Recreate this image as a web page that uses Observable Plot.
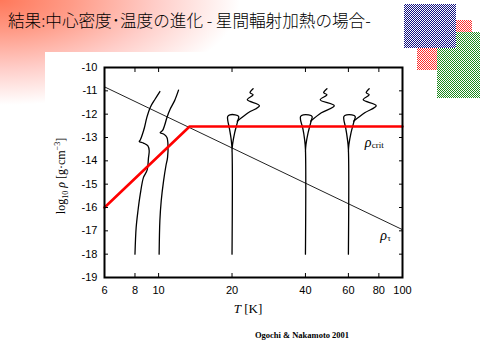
<!DOCTYPE html>
<html><head><meta charset="utf-8">
<script src="https://cdn.jsdelivr.net/npm/d3@7"></script>
<script src="https://cdn.jsdelivr.net/npm/@observablehq/plot@0.6"></script>
<style>
html,body{margin:0;padding:0;background:#fff;}
#page{position:relative;width:480px;height:360px;overflow:hidden;background:#fff;}
.abs{position:absolute;}
#grad{left:0;top:0;width:260px;height:110px;
 background:radial-gradient(ellipse 240px 105px at 0 0, rgb(255,120,90) 0%, rgb(255,155,135) 30%, rgb(255,205,200) 65%, rgba(255,255,255,0) 100%);}
#white{left:45px;top:52px;width:372px;height:308px;background:#fff;}
.sq{background-size:2px 2px;}
#sqRed{left:417px;top:20px;width:55px;height:50px;background-image:repeating-conic-gradient(#ff2a2a 0 25%, #fff 0 50%);}
#sqGreen{left:437px;top:32px;width:43px;height:66px;background-image:repeating-conic-gradient(#1f8a1f 0 25%, #fff 0 50%);}
#sqBlue{left:404px;top:4px;width:52px;height:44px;background-image:repeating-conic-gradient(#101080 0 25%, #fff 0 50%);}
#title{left:8px;top:12px;font-family:"Noto Sans CJK JP",sans-serif;font-weight:300;font-size:16.6px;line-height:1;color:#000;white-space:nowrap;letter-spacing:0px;}
#chart{left:0;top:0;}
</style></head>
<body><div id="page">
<div id="grad" class="abs"></div>
<div id="white" class="abs"></div>
<div id="sqRed" class="abs sq"></div>
<div id="sqGreen" class="abs sq"></div>
<div id="sqBlue" class="abs sq"></div>
<div id="chart" class="abs"></div>
<div id="title" class="abs">結果:中心密度･温度の進化 - 星間輻射加熱の場合-</div>
</div>
<script>
// ---- data (T [K], log10 rho) ----
const xTicks = [6, 8, 10, 20, 40, 60, 80, 100];
const yTicks = [-19, -18, -17, -16, -15, -14, -13, -12, -11, -10];

const rhoTau = [[6, -10.83], [100, -16.95]];
const rhoCrit = [[6, -16.0], [13.4, -12.53], [100, -12.53]];

const track8 = [[8.0,-18.0],[8.09,-16.86],[8.23,-16.14],[8.41,-15.43],[8.67,-14.71],[8.97,-14.4],[9.09,-13.86],[9.15,-13.57],[9.04,-13.36],[8.67,-13.24],[8.33,-13.17],[8.41,-13.11],[8.59,-12.85],[8.75,-12.57],[8.95,-12.14],[9.24,-11.71],[9.68,-11.35],[10.12,-11.03]];
const track10 = [[10.05,-18.0],[10.12,-16.57],[10.25,-15.71],[10.48,-14.86],[10.72,-14.2],[10.88,-13.86],[10.92,-13.28],[10.82,-13.0],[10.48,-12.85],[10.15,-12.79],[10.37,-12.71],[10.57,-12.5],[10.82,-12.14],[11.16,-11.78],[11.62,-11.43],[12.07,-10.97]];

const track20loop = [[20,-18],[20,-13.5],[19.85,-13.1],[19.5,-12.6],[19.2,-12.25],[19.2,-12.1],[19.6,-12.03],[20.6,-12.03],[21.3,-12.1],[21.1,-12.3],[20.5,-12.8],[20.1,-13.3],[20,-13.6]];
const track20zig = [[21.0,-12.3],[23.3,-11.94],[25.9,-11.64],[23.1,-11.38],[24.4,-11.17],[23.7,-11.08],[24.4,-10.91]];
const track40loop = [[40,-18],[40,-13.5],[39.7,-13.1],[39.0,-12.6],[38.2,-12.25],[38.2,-12.1],[39.2,-12.03],[41.2,-12.03],[42.6,-12.1],[42.2,-12.3],[41.0,-12.8],[40.2,-13.3],[40,-13.6]];
const track40zig = [[42.0,-12.3],[46.5,-11.94],[52.5,-11.64],[46.0,-11.38],[49.0,-11.17],[47.5,-11.08],[49.0,-10.91]];
const track60loop = [[60,-18],[60,-13.5],[59.5,-13.1],[58.5,-12.6],[57.5,-12.25],[57.5,-12.1],[59.0,-12.03],[62.0,-12.03],[64.0,-12.1],[63.3,-12.3],[61.5,-12.8],[60.3,-13.3],[60,-13.6]];
const track60zig = [[63.0,-12.3],[70.0,-11.94],[78.0,-11.64],[69.0,-11.38],[73.0,-11.17],[71.0,-11.08],[73.0,-10.91]];

const curveLabels = [
  {name: "ρ", sub: "crit", T: 70, rho: -13.2},
  {name: "ρ", sub: "τ", T: 81, rho: -17.2}
];

// ---- build tables ----
const smoothTracks = [["t8", track8], ["t10", track10]]
  .flatMap(([id, pts]) => pts.map(([T, r]) => ({id, T, r})));
const loopTracks = [["t20a", track20loop], ["t20b", track20zig], ["t40a", track40loop], ["t40b", track40zig], ["t60a", track60loop], ["t60b", track60zig]]
  .flatMap(([id, pts]) => pts.map(([T, r]) => ({id, T, r})));
const tauRows = rhoTau.map(([T, r]) => ({T, r}));
const critRows = rhoCrit.map(([T, r]) => ({T, r}));

const fmt = d => String(d);
const chart = Plot.plot({
  width: 480, height: 360,
  marginLeft: 104, marginRight: 78, marginTop: 67, marginBottom: 83,
  x: {type: "log", domain: [6, 100], axis: null},
  y: {domain: [-19, -10], axis: null},
  style: {background: "transparent", fontFamily: "'Liberation Sans', Arial, sans-serif", fontSize: "11px", color: "#000"},
  marks: [
    Plot.line(tauRows, {x: "T", y: "r", stroke: "#222", strokeWidth: 1}),
    Plot.line(smoothTracks, {x: "T", y: "r", z: "id", stroke: "#000", strokeWidth: 1.3, curve: "catmull-rom"}),
    Plot.line(loopTracks, {x: "T", y: "r", z: "id", stroke: "#000", strokeWidth: 1.3, curve: "catmull-rom"}),
    Plot.line(critRows, {x: "T", y: "r", stroke: "#ff0000", strokeWidth: 2.6}),
    Plot.text(curveLabels, {x: "T", y: "rho", text: "name", textAnchor: "start", fontStyle: "italic", fontFamily: "'Liberation Serif', serif", fontSize: 14}),
    Plot.text(curveLabels, {x: "T", y: "rho", text: "sub", textAnchor: "start", dx: 7, dy: 3, fontFamily: "'Liberation Serif', serif", fontSize: 9}),
    Plot.text(xTicks, {x: d => d, frameAnchor: "bottom", dy: 13, lineAnchor: "middle", text: fmt, fill: "#000", fontSize: 11}),
    Plot.axisX({anchor: "bottom", ticks: xTicks, tickSize: -4, fill: "none", label: null}),
    Plot.axisX({anchor: "top", ticks: xTicks, tickSize: -4, fill: "none", label: null}),
    Plot.axisY({anchor: "left", ticks: yTicks, tickSize: 0, tickPadding: 7, tickFormat: fmt, label: null}),
    Plot.axisY({anchor: "left", ticks: yTicks, tickSize: -4, fill: "none", label: null}),
    Plot.axisY({anchor: "right", ticks: yTicks, tickSize: -4, fill: "none", label: null}),
    Plot.frame({stroke: "#000", strokeWidth: 2})
  ]
});
document.getElementById("chart").appendChild(chart);

const svg = d3.select(chart);
// y-axis label
const yl = svg.append("text")
  .attr("transform", "translate(65,176) rotate(-90)")
  .attr("text-anchor", "middle")
  .attr("fill", "#000")
  .style("font-family", "'Liberation Serif', serif")
  .style("font-size", "12px");
yl.append("tspan").text("log");
yl.append("tspan").attr("dy", 3).style("font-size", "8px").text("10");
yl.append("tspan").attr("dy", -3).text(" ");
yl.append("tspan").style("font-style", "italic").text("ρ");
yl.append("tspan").text(" [g·cm");
yl.append("tspan").attr("dy", -5).style("font-size", "8px").text("−3");
yl.append("tspan").attr("dy", 5).text("]");
// x-axis label
const xl = svg.append("text")
  .attr("x", 248).attr("y", 313)
  .attr("text-anchor", "middle")
  .attr("fill", "#000")
  .style("font-family", "'Liberation Serif', serif")
  .style("font-size", "13px");
xl.append("tspan").style("font-style", "italic").text("T");
xl.append("tspan").text(" [K]");
// caption
svg.append("text")
  .attr("x", 302).attr("y", 338)
  .attr("fill", "#000")
  .style("font-family", "'Liberation Serif', serif")
  .style("font-size", "8.5px")
  .style("font-weight", "bold")
  .text("Ogochi & Nakamoto 2001");
</script>
</body></html>
